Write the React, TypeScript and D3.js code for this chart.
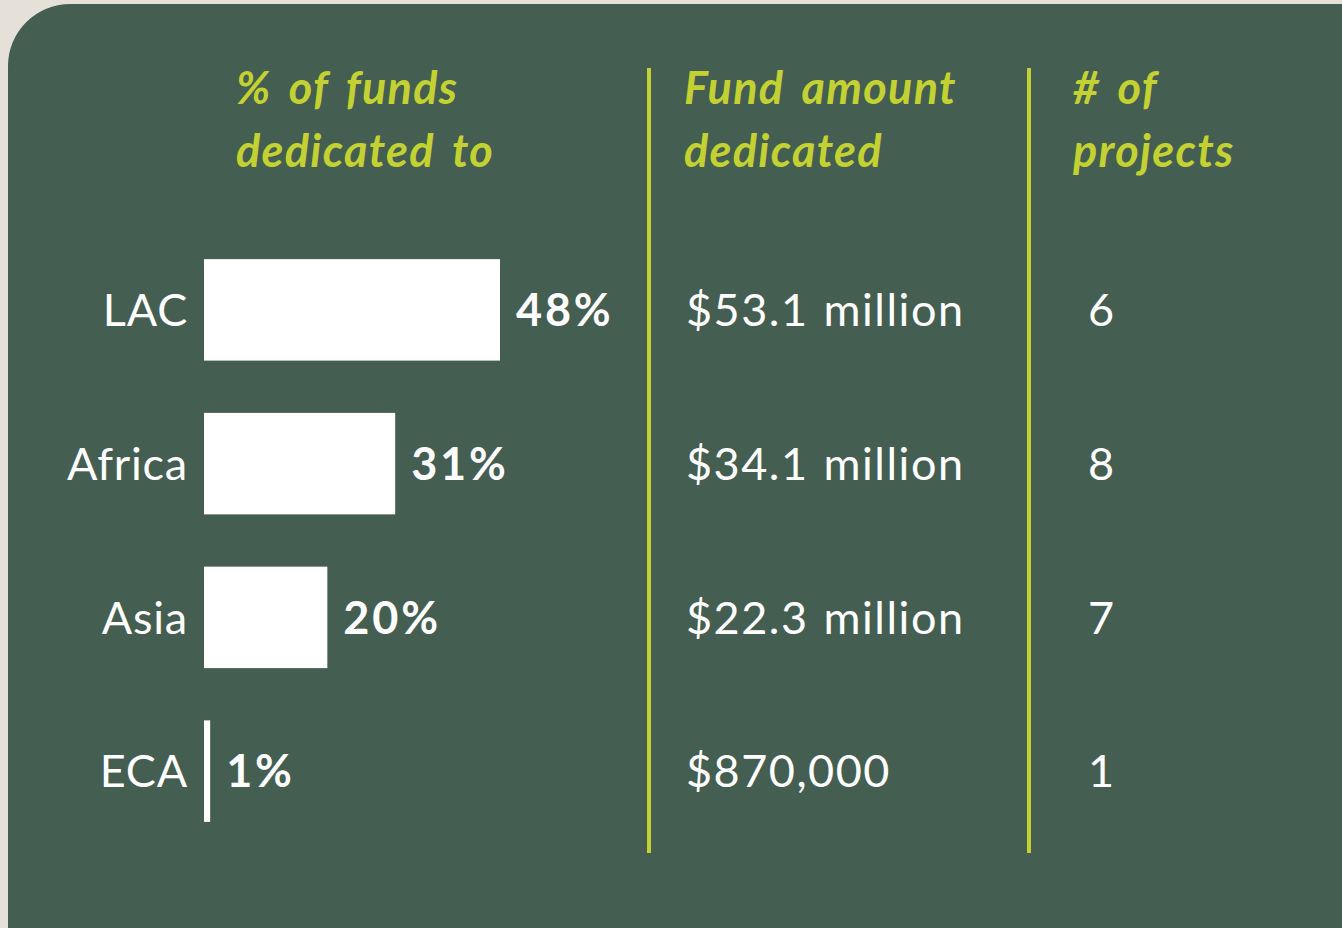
import { useEffect, useRef } from 'react';
import * as d3 from 'd3';

const regions = ['LAC', 'Africa', 'Asia', 'ECA'];
const sharePct = [48, 31, 20, 1];
const shareLabels = ['48%', '31%', '20%', '1%'];
const fundLabels = ['$53.1 million', '$34.1 million', '$22.3 million', '$870,000'];
const projectCounts = [6, 8, 7, 1];

const W = 1342;
const H = 928;
const BG = '#e6e1d8';
const PANEL = '#445e51';
const LIME = '#c3d232';
const FONT = 'Lato, "Open Sans", sans-serif';

export default function App() {
  const svgRef = useRef<SVGSVGElement>(null);

  useEffect(() => {
    if (!svgRef.current) return;
    const svg = d3.select(svgRef.current);
    svg.selectAll('*').remove();

    svg.append('rect').attr('width', W).attr('height', H).attr('fill', BG);
    svg.append('rect')
      .attr('x', 8).attr('y', 4)
      .attr('width', W + 100).attr('height', H + 100)
      .attr('rx', 62)
      .attr('fill', PANEL);

    const y = d3.scaleBand<string>()
      .domain(regions)
      .range([233, 848])
      .paddingInner(0.34)
      .paddingOuter(0.17);

    const barX0 = 204;
    const x = d3.scaleLinear().domain([0, 48]).range([0, 296]);

    // header
    const headers = [
      { x: 236, lines: ['% of funds', 'dedicated to'] },
      { x: 684, lines: ['Fund amount', 'dedicated'] },
      { x: 1073, lines: ['# of', 'projects'] },
    ];
    headers.forEach(h => {
      h.lines.forEach((line, i) => {
        svg.append('text')
          .attr('x', h.x)
          .attr('y', 104 + i * 63)
          .attr('fill', LIME)
          .attr('font-family', FONT)
          .attr('font-size', 45)
          .attr('font-weight', 700)
          .attr('font-style', 'italic')
          .attr('letter-spacing', 1.3)
          .attr('word-spacing', 6)
          .text(line);
      });
    });

    // dividers
    [649, 1029].forEach(lx => {
      svg.append('line')
        .attr('x1', lx).attr('x2', lx)
        .attr('y1', 68).attr('y2', 853)
        .attr('stroke', LIME)
        .attr('stroke-width', 4);
    });

    const rows = svg.append('g')
      .selectAll('g')
      .data(regions)
      .enter()
      .append('g');

    const cy = (d: string) => (y(d) || 0) + y.bandwidth() / 2;

    rows.append('rect')
      .attr('x', barX0)
      .attr('y', d => y(d) || 0)
      .attr('width', (d, i) => Math.max(4, x(sharePct[i])))
      .attr('height', y.bandwidth())
      .attr('fill', '#ffffff');

    rows.append('text')
      .attr('x', 188)
      .attr('y', cy)
      .attr('dy', '0.36em')
      .attr('text-anchor', 'end')
      .attr('fill', '#ffffff')
      .attr('font-family', FONT)
      .attr('font-size', 45)
      .attr('letter-spacing', 0.8)
      .text(d => d);

    rows.append('text')
      .attr('x', (d, i) => barX0 + Math.max(4, x(sharePct[i])) + 16)
      .attr('y', cy)
      .attr('dy', '0.36em')
      .attr('fill', '#ffffff')
      .attr('font-family', FONT)
      .attr('font-size', 45)
      .attr('font-weight', 700)
      .attr('letter-spacing', 2.8)
      .text((d, i) => shareLabels[i]);

    rows.append('text')
      .attr('x', 686)
      .attr('y', cy)
      .attr('dy', '0.36em')
      .attr('fill', '#ffffff')
      .attr('font-family', FONT)
      .attr('font-size', 45)
      .attr('letter-spacing', 1.5)
      .attr('word-spacing', 2)
      .text((d, i) => fundLabels[i]);

    rows.append('text')
      .attr('x', 1101)
      .attr('y', cy)
      .attr('dy', '0.36em')
      .attr('text-anchor', 'middle')
      .attr('fill', '#ffffff')
      .attr('font-family', FONT)
      .attr('font-size', 45)
      .text((d, i) => String(projectCounts[i]));
  }, []);

  return (
    <div style={{ position: 'fixed', left: 0, top: 0, width: W, height: H, overflow: 'hidden' }}>
      <svg ref={svgRef} width={W} height={H} style={{ display: 'block' }} />
    </div>
  );
}
